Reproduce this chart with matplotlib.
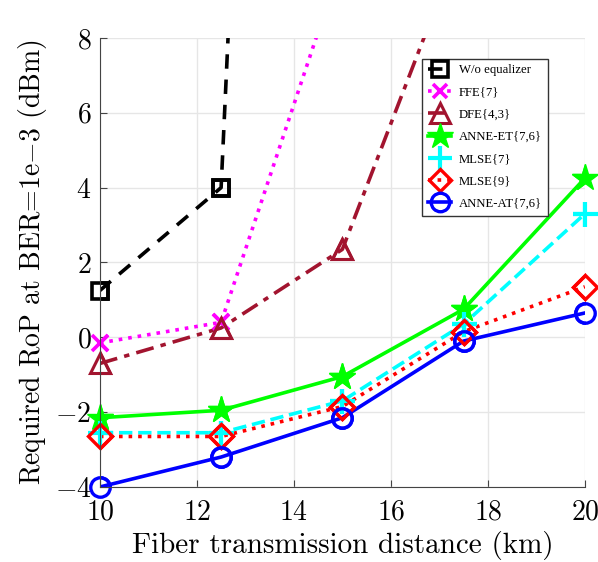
import matplotlib.pyplot as plt

plt.rcParams['font.family'] = 'cmr10'
plt.rcParams['mathtext.fontset'] = 'cm'
plt.rcParams['axes.formatter.use_mathtext'] = True

# distancias (km)
dist = [10, 12.5, 15, 17.5, 20]

# potencia requerida (dBm) para cada ecualizador
wo_x = [10, 12.5, 15]
wo_y = [1.25, 4.0, 74.0]
ffe_x = [10, 12.5, 15]
ffe_y = [-0.15, 0.4, 10.1]
dfe_x = [10, 12.5, 15, 17.5]
dfe_y = [-0.7, 0.25, 2.35, 10.75]
anne_et = [-2.15, -1.95, -1.05, 0.75, 4.25]
mlse7 = [-2.55, -2.55, -1.7, 0.35, 3.3]
mlse9 = [-2.65, -2.65, -1.85, 0.15, 1.35]
anne_at = [-4.0, -3.2, -2.15, -0.1, 0.65]

fig = plt.figure(figsize=(5.98, 5.62), dpi=100)
ax = fig.add_axes([0.167, 0.1335, 0.811, 0.799])

lw = 2.6
lineas = []
lineas += ax.plot(wo_x, wo_y, 'k--s', lw=lw, ms=12, mfc='none', mew=2.6, dashes=(4, 3), label='W/o equalizer')
lineas += ax.plot(ffe_x, ffe_y, ':x', color='#ff00ff', lw=lw, ms=11, mew=2.6, label='FFE{7}')
lineas += ax.plot(dfe_x, dfe_y, '-.^', color='#a2142f', lw=lw, ms=15, mfc='none', mew=2.2, dashes=(5, 2, 1.5, 2), label='DFE{4,3}')
lineas += ax.plot(dist, anne_et, '-*', color='#00ff00', lw=lw, ms=20, label='ANNE-ET{7,6}')
lineas += ax.plot(dist, mlse7, '--+', color='#00ffff', lw=lw, ms=18, mew=3, label='MLSE{7}')
lineas += ax.plot(dist, mlse9, ':D', color='#ff0000', lw=lw, ms=12, mfc='none', mew=2.4, label='MLSE{9}')
lineas += ax.plot(dist, anne_at, '-o', color='#0000ff', lw=lw, ms=14, mfc='none', mew=2.4, label='ANNE-AT{7,6}')

ax.set_xlim(10, 20)
ax.set_ylim(-4, 8)
ax.set_xticks([10, 12, 14, 16, 18, 20])
ax.set_yticks([-4, -2, 0, 2, 4, 6, 8])
ax.grid(True, color='#e6e6e6', lw=1)
ax.set_axisbelow(True)
ax.spines['top'].set_visible(False)
ax.spines['right'].set_visible(False)
ax.spines['left'].set_color('#444444')
ax.spines['bottom'].set_color('#444444')
ax.tick_params(direction='in', labelsize=20, length=5, color='#444444')
ax.tick_params(axis='x', pad=9)
ax.tick_params(axis='y', pad=6)

ax.set_xlabel('Fiber transmission distance (km)', fontsize=21, labelpad=4)
ax.set_ylabel('Required RoP at BER=1e$-$3 (dBm)', fontsize=20, labelpad=4)

leg = ax.legend(loc='upper left', bbox_to_anchor=(0.652, 0.968), prop={'family': 'Liberation Serif', 'size': 9.2},
                fancybox=False, edgecolor='#333333', framealpha=1, handlelength=1.8, handletextpad=0.6,
                labelspacing=0.8, borderpad=0.45, markerscale=0.95)
leg.get_frame().set_linewidth(1)

# marcadores sobre los bordes sin recortar
for ln in lineas:
    xs, ys = ln.get_data()
    ax.plot([x for x, y in zip(xs, ys) if y <= 8], [y for y in ys if y <= 8], ls='none',
            marker=ln.get_marker(), ms=ln.get_markersize(), mew=ln.get_markeredgewidth(),
            mec=ln.get_markeredgecolor(), mfc=ln.get_markerfacecolor(), clip_on=False)

fig.savefig('out.png', dpi=100)
